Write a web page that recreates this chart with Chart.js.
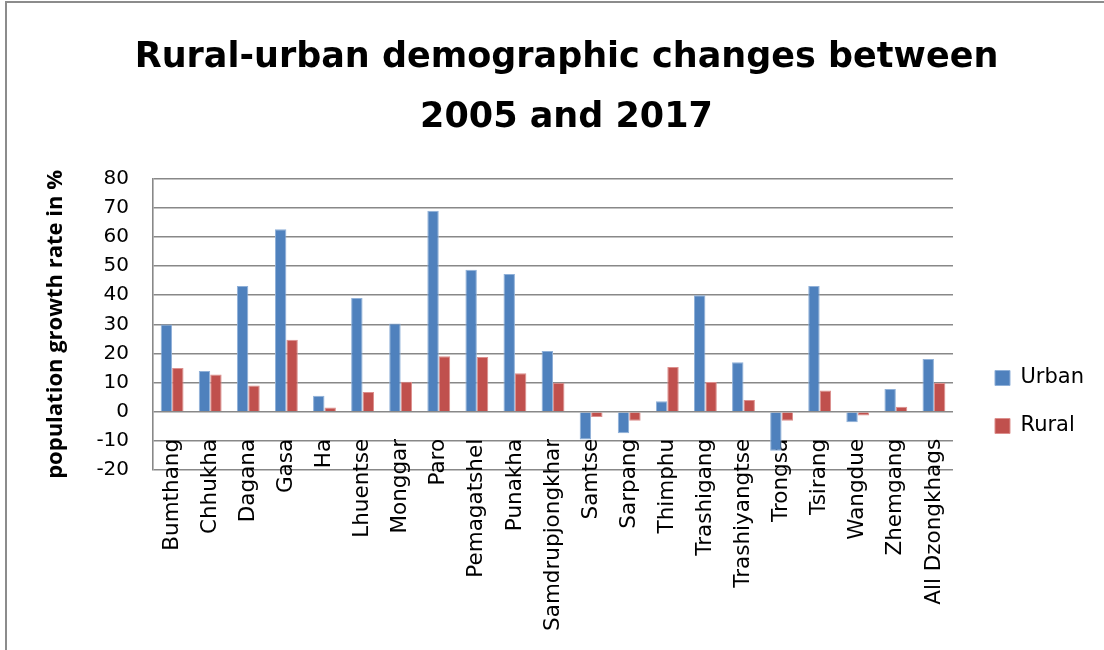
<!DOCTYPE html>
<html>
<head>
<meta charset="utf-8">
<script src="https://cdn.jsdelivr.net/npm/chart.js@4"></script>
<style>
  body { margin: 0; background: #fff; }
  #wrap { position: relative; width: 1104px; height: 650px; }
  #frame { position: absolute; left: 5px; top: 1px; width: 1110px; height: 660px; border: 2px solid #8c8c8c; box-sizing: border-box; pointer-events: none; }
</style>
</head>
<body>
<div id="wrap">
  <canvas id="ruralUrbanChart" width="1104" height="650"></canvas>
  <div id="frame"></div>
</div>
<script>
// Dzongkhags
const districts = ['Bumthang', 'Chhukha', 'Dagana', 'Gasa', 'Ha', 'Lhuentse', 'Monggar', 'Paro',
  'Pemagatshel', 'Punakha', 'Samdrupjongkhar', 'Samtse', 'Sarpang', 'Thimphu', 'Trashigang',
  'Trashiyangtse', 'Trongsa', 'Tsirang', 'Wangdue', 'Zhemgang', 'All Dzongkhags'];

// growth rate in %
const urbanGrowth = [30, 14, 43.2, 62.7, 5.5, 39.1, 30.3, 69, 48.8, 47.3, 20.9, -9.5, -7.4, 3.6, 40, 17, -13.4, 43.2, -3.6, 7.8, 18.1];
const ruralGrowth = [15, 12.8, 9, 24.7, 1.5, 6.8, 10.3, 19.1, 18.8, 13.2, 10, -1.8, -3.1, 15.4, 10.2, 4, -3.1, 7.3, -1.3, 1.7, 9.9];

const yTicks = { min: -20, max: 80, step: 10 };

document.addEventListener('DOMContentLoaded', function() {
  const ctx = document.getElementById('ruralUrbanChart').getContext('2d');
  new Chart(ctx, {
    type: 'bar',
    data: {
      labels: districts,
      datasets: [{
        label: 'Urban',
        data: urbanGrowth,
        backgroundColor: '#4f81bd',
        borderColor: '#8fb0d8',
        borderWidth: 1
      }, {
        label: 'Rural',
        data: ruralGrowth,
        backgroundColor: '#c0504d',
        borderColor: '#dc8f8d',
        borderWidth: 1
      }]
    },
    options: {
      responsive: false,
      animation: false,
      categoryPercentage: 0.6,
      barPercentage: 1,
      layout: { padding: { left: 39, right: 10, top: 27, bottom: 180 } },
      plugins: {
        title: {
          display: true,
          text: ['Rural-urban demographic changes between', '2005 and 2017'],
          color: '#000',
          font: { family: 'DejaVu Sans', size: 35, weight: 'bold', lineHeight: 1.74 },
          padding: { top: 0, bottom: 30 }
        },
        legend: {
          position: 'right',
          // pushes the two items down to the middle of the whole chart
          title: { display: true, text: ' ', font: { size: 10 }, padding: { top: 295, bottom: 0 } },
          labels: {
            color: '#000',
            font: { family: 'DejaVu Sans', size: 21 },
            boxWidth: 15,
            boxHeight: 15,
            padding: 27
          }
        },
        tooltip: { enabled: false }
      },
      scales: {
        x: {
          // category labels hang from the -10 line, overlapping the plot like the original
          position: { y: -10 },
          grid: { display: false, drawTicks: false },
          border: { display: false },
          ticks: {
            color: '#000',
            font: { family: 'DejaVu Sans', size: 21.5 },
            minRotation: 90,
            maxRotation: 90,
            autoSkip: false,
            padding: -2
          }
        },
        y: {
          min: yTicks.min,
          max: yTicks.max,
          grid: { color: '#888', lineWidth: 1.6, drawTicks: false },
          border: { color: '#888', width: 1.6 },
          ticks: {
            stepSize: yTicks.step,
            color: '#000',
            font: { family: 'DejaVu Sans', size: 20 },
            padding: 24
          },
          title: {
            display: true,
            text: 'population growth rate in %',
            color: '#000',
            font: { family: 'Open Sans', size: 22, weight: 'bold' },
            padding: { top: 4, bottom: 3 }
          }
        },
        // empty spacer between plot and legend
        gap: {
          position: 'right',
          display: true,
          grid: { display: false },
          border: { display: false },
          ticks: { display: false },
          afterFit: function(scale) { scale.width = 15; }
        }
      }
    }
  });
});
</script>
</body>
</html>
